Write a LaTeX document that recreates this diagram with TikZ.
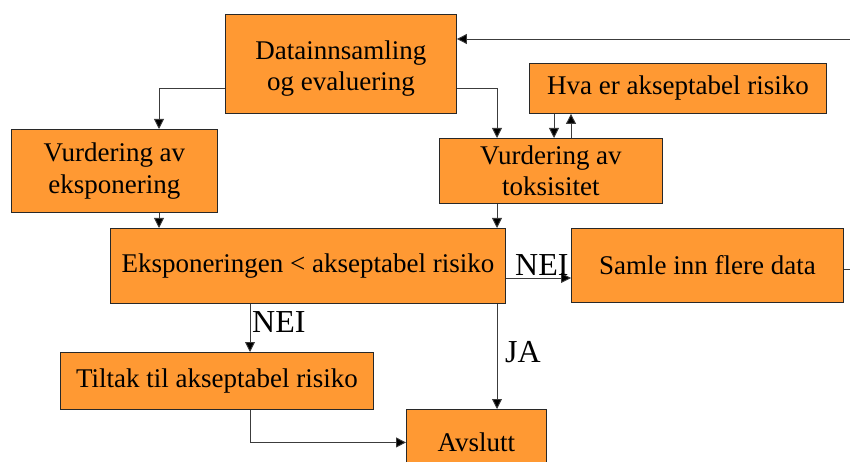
\documentclass[tikz,border=0pt]{standalone}
\usepackage{fontspec}
\setmainfont{Liberation Serif}
\usetikzlibrary{arrows.meta}
\definecolor{boxfill}{RGB}{255,153,51}
\definecolor{boxline}{RGB}{40,40,40}
\definecolor{conn}{RGB}{60,60,60}
\begin{document}
\begin{tikzpicture}[x=1pt,y=-1pt,
  box/.style={draw=boxline, line width=0.9pt, fill=boxfill, rectangle, inner sep=0pt,
    anchor=north west, align=center, font=\fontsize{27}{31.5}\selectfont},
  arr/.style={draw=conn, line width=0.9pt, -{Triangle[length=10pt,width=10pt,fill=black]}},
  lbl/.style={inner sep=0pt, anchor=base west, font=\fontsize{32}{36}\selectfont}]
\useasboundingbox (0,0) rectangle (850,462);
% boxes
\node[box, minimum width=231pt, minimum height=99pt] (data) at (225,14) {\rule{0pt}{28pt}Datainnsamling\\og evaluering};
\node[box, minimum width=297pt, minimum height=50pt] (hva) at (529,63) {Hva er akseptabel risiko};
\node[box, minimum width=206pt, minimum height=83pt] (eksp) at (11,129) {Vurdering av\\eksponering};
\node[box, minimum width=223pt, minimum height=65pt] (tox) at (439,138) {Vurdering av\\toksisitet};
\node[box, minimum width=395pt, minimum height=75pt] (cmp) at (110,228) {Eksponeringen < akseptabel risiko};
\node[box, minimum width=272pt, minimum height=74pt] (samle) at (571,228) {Samle inn flere data};
\node[box, minimum width=313pt, minimum height=57pt] (tiltak) at (60,352) {Tiltak til akseptabel risiko};
\node[box, minimum width=140pt, minimum height=66pt] (avs) at (406,409) {Avslutt};
% guide coordinates
\coordinate (cA) at (159,0);
\coordinate (cB) at (497,0);
\coordinate (cC) at (554,0);
\coordinate (cD) at (571,0);
\coordinate (cE) at (250,0);
\coordinate (r88) at (0,88);
\coordinate (r278) at (0,278);
\coordinate (r269) at (0,269);
\coordinate (r39) at (0,39);
\coordinate (far1) at (853,269);
\coordinate (far2) at (853,39);
% connectors
\draw[arr] (data.west |- r88) -| (cA |- eksp.north);
\draw[arr] (data.east |- r88) -| (cB |- tox.north);
\draw[arr] (cC |- hva.south) -- (cC |- tox.north);
\draw[arr] (cD |- tox.north) -- (cD |- hva.south);
\draw[arr] (cA |- eksp.south) -- (cA |- cmp.north);
\draw[arr] (cB |- tox.south) -- (cB |- cmp.north);
\draw[arr] (cmp.east |- r278) -- (samle.west |- r278);
\draw[arr] (samle.east |- r269) -- (far1) -- (far2) -- (data.east |- r39);
\draw[arr] (cE |- cmp.south) -- (cE |- tiltak.north);
\draw[arr] (cB |- cmp.south) -- (cB |- avs.north);
\draw[arr] (cE |- tiltak.south) |- (avs.west);
% labels
\node[lbl] (nei1) at (515,275) {NEI};
\node[lbl] (nei2) at (252,332) {NEI};
\node[lbl] (ja) at (505,362) {JA};
\end{tikzpicture}
\end{document}
